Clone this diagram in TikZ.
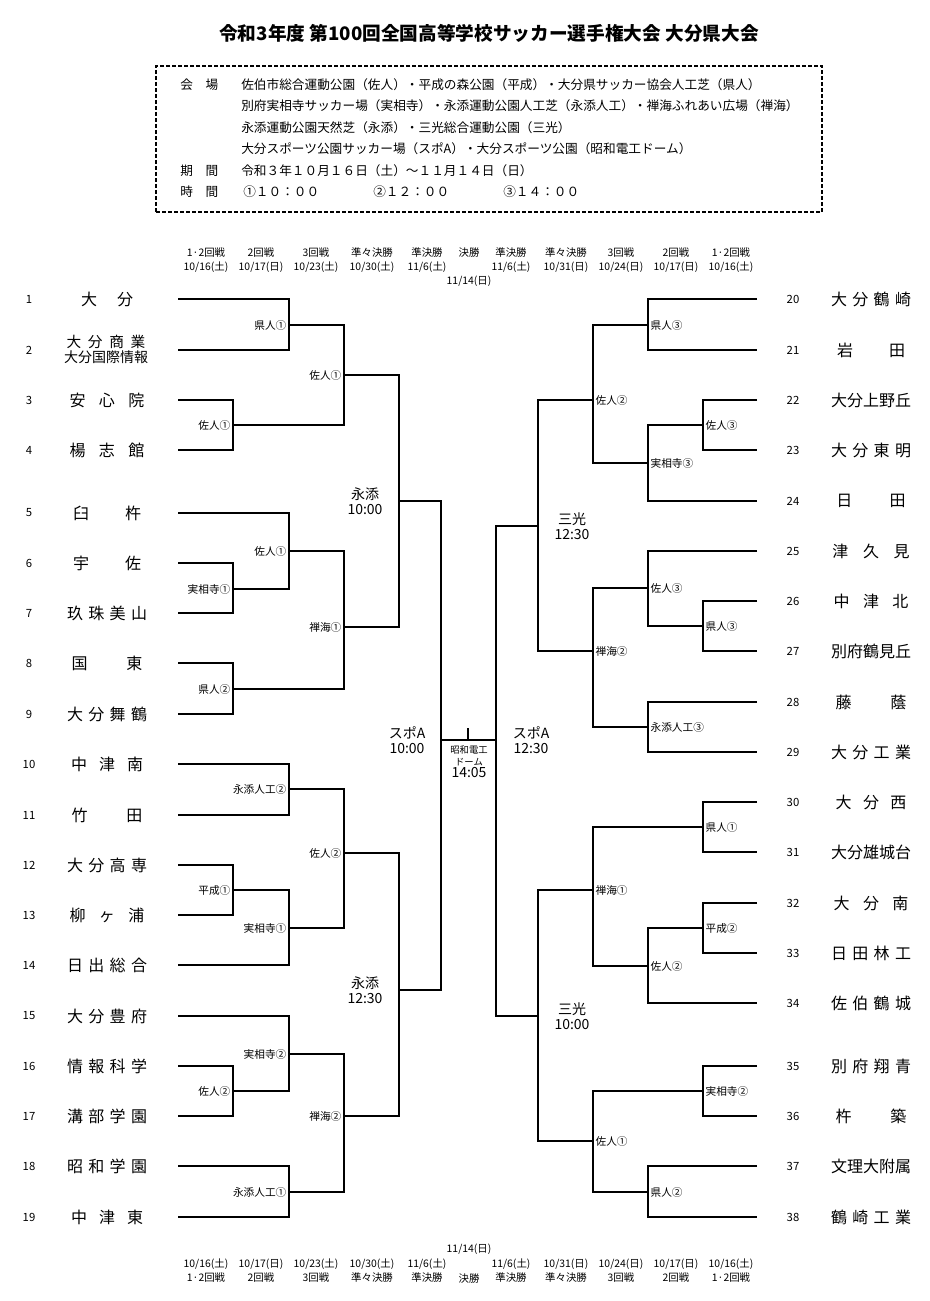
\documentclass[tikz,border=0pt]{standalone}
\usepackage{fontspec}
\setmainfont{Noto Sans CJK JP}
\usetikzlibrary{positioning, calc}
\tikzstyle{Line} = [draw, line width=1.4pt]
\tikzstyle{lmatch} = [anchor=east, inner sep=1pt, font=\fontsize{8}{9}\selectfont]
\tikzstyle{rmatch} = [anchor=west, inner sep=1pt, font=\fontsize{8}{9}\selectfont]
\tikzstyle{venue} = [align=center, inner sep=0pt, font=\fontsize{10.5}{11}\selectfont]
\tikzstyle{num} = [inner sep=0pt, font=\fontsize{8.5}{9}\selectfont]
\tikzstyle{team} = [inner sep=0pt, font=\fontsize{12}{13}\selectfont]
\tikzstyle{hdr} = [align=center, inner sep=0pt, font=\fontsize{7.8}{10.5}\selectfont]
\tikzstyle{info} = [anchor=west, inner sep=0pt, font=\fontsize{9.5}{10}\selectfont]
\newcommand{\spread}[2]{\makebox[#1pt][s]{#2}}

\begin{document}
\begin{tikzpicture}[x=0.75pt, y=-0.75pt]
     % ><>< =================== ><>< %
     \useasboundingbox (0,0) rectangle (930,1301);
     \node [font=\fontsize{14}{15}\selectfont\bfseries] (title) at (489,33)
        {令和3年度 第100回全国高等学校サッカー選手権大会 大分県大会};
     % ><><   venue box   ><>< %
     \node [draw, dash pattern=on 3pt off 1.5pt, line width=0.9pt,
        minimum width=499.5pt, minimum height=109.5pt, inner sep=0pt]
        (box) at (489,139) {};
     \node [info] (k1) at (180,85) {会　場};
     \node [info] (k2) at (180,171) {期　間};
     \node [info] (k3) at (180,192) {時　間};
     \node [info] (v1) at (241,85)
        {佐伯市総合運動公園（佐人）・平成の森公園（平成）・大分県サッカー協会人工芝（県人）};
     \node [info] (v2) at (241,106)
        {別府実相寺サッカー場（実相寺）・永添運動公園人工芝（永添人工）・禅海ふれあい広場（禅海）};
     \node [info] (v3) at (241,128) {永添運動公園天然芝（永添）・三光総合運動公園（三光）};
     \node [info] (v4) at (241,149)
        {大分スポーツ公園サッカー場（スポA）・大分スポーツ公園（昭和電工ドーム）};
     \node [info] (v5) at (241,171) {令和３年１０月１６日（土）～１１月１４日（日）};
     \node [info] (t1) at (243,192) {①１０：００};
     \node [info] (t2) at (373,192) {②１２：００};
     \node [info] (t3) at (503,192) {③１４：００};
     % ><><   round headers   ><>< %
     \foreach \x/\r/\d [count=\i] in {206/1·2回戦/{10/16(土)}, 261/2回戦/{10/17(日)},
        316/3回戦/{10/23(土)}, 372/準々決勝/{10/30(土)}, 427/準決勝/{11/6(土)},
        511/準決勝/{11/6(土)}, 566/準々決勝/{10/31(日)}, 621/3回戦/{10/24(日)},
        676/2回戦/{10/17(日)}, 731/1·2回戦/{10/16(土)}}{
        \node [hdr] (ht\i) at (\x,260) {\r\\\d};
        \node [hdr] (hb\i) at (\x,1271) {\d\\\r};
     }
     \node [hdr] (htf) at (469,253) {決勝};
     \node [hdr] (htd) at (469,281) {11/14(日)};
     \node [hdr] (hbf) at (469,1279) {決勝};
     \node [hdr] (hbd) at (469,1249) {11/14(日)};
     % ><><   teams, left   ><>< %
     \foreach \n/\y/\w/\t in {1/299/39/大 分, 3/400/56/安 心 院, 4/450/56/楊 志 館,
        5/513/51/臼 杵, 6/563/51/宇 佐, 7/613/60/玖 珠 美 山, 8/663/53/国 東,
        9/714/60/大 分 舞 鶴, 10/764/54/中 津 南, 11/815/53/竹 田,
        12/865/60/大 分 高 専, 13/915/56/柳 ヶ 浦, 14/965/60/日 出 総 合,
        15/1016/60/大 分 豊 府, 16/1066/60/情 報 科 学, 17/1116/60/溝 部 学 園,
        18/1166/60/昭 和 学 園, 19/1217/54/中 津 東}{
        \node [num] (nL\n) at (29,\y) {\n};
        \node [team] (tL\n) at (107,\y) {\spread{\w}{\t}};
     }
     \node [num] (nL2) at (29,350) {2};
     \node [team, font=\fontsize{11}{12}\selectfont] (tL2) at (106,342) {\spread{59}{大 分 商 業}};
     \node [team, font=\fontsize{10.5}{11}\selectfont] (tL2b) at (106,357) {大分国際情報};
     \foreach \n/\y in {1/299, 2/350, 3/400, 4/450, 5/513, 6/563, 7/613, 8/663,
        9/714, 10/764, 11/815, 12/865, 13/915, 14/965, 15/1016, 16/1066,
        17/1116, 18/1166, 19/1217}
        \coordinate (L\n) at (178,\y);
     % ><><   teams, right   ><>< %
     \foreach \n/\y/\w/\t in {20/299/60/大 分 鶴 崎, 21/350/51/岩 田, 22/400/0/大分上野丘,
        23/450/60/大 分 東 明, 24/501/52/日 田, 25/551/58/津 久 見, 26/601/56/中 津 北,
        27/651/0/別府鶴見丘, 28/702/53/藤 蔭, 29/752/60/大 分 工 業, 30/802/53/大 分 西,
        31/852/0/大分雄城台, 32/903/56/大 分 南, 33/953/60/日 田 林 工,
        34/1003/60/佐 伯 鶴 城, 35/1066/60/別 府 翔 青, 36/1116/53/杵 築,
        37/1166/0/文理大附属, 38/1217/60/鶴 崎 工 業}{
        \node [num] (nR\n) at (793,\y) {\n};
        \ifnum\w=0
           \node [team] (tR\n) at (871,\y) {\t};
        \else
           \node [team] (tR\n) at (871,\y) {\spread{\w}{\t}};
        \fi
        \coordinate (R\n) at (757,\y);
     }
     % ><><   match points, left   ><>< %
     \foreach \j/\x/\y in {1/289/325, 2/233/425, 3/344/375, 4/233/589, 5/289/551,
        6/233/689, 7/344/627, 8/399/501, 9/289/789, 10/233/890, 11/289/928,
        12/344/853, 13/233/1091, 14/289/1054, 15/289/1192, 16/344/1116,
        17/399/990, 18/441/740}
        \coordinate (J\j) at (\x,\y);
     % ><><   match points, right   ><>< %
     \foreach \j/\x/\y in {1/648/325, 2/703/425, 3/648/463, 4/593/400, 5/703/626,
        6/648/588, 7/648/727, 8/593/651, 9/538/526, 10/703/827, 11/703/928,
        12/648/966, 13/593/890, 14/703/1091, 15/648/1192, 16/593/1141,
        17/538/1016, 18/496/740}
        \coordinate (K\j) at (\x,\y);
     % ><>< =================== ><>< %
     % ><><     Draw lines.     ><>< %
     % ><>< =================== ><>< %
     \foreach \a/\j/\b in {L1/J1/L2, L3/J2/L4, J1/J3/J2, L6/J4/L7, L5/J5/J4,
        L8/J6/L9, J5/J7/J6, J3/J8/J7, L10/J9/L11, L12/J10/L13, J10/J11/L14,
        J9/J12/J11, L16/J13/L17, L15/J14/J13, L18/J15/L19, J14/J16/J15,
        J12/J17/J16, J8/J18/J17,
        R20/K1/R21, R22/K2/R23, K2/K3/R24, K1/K4/K3, R26/K5/R27, R25/K6/K5,
        R28/K7/R29, K6/K8/K7, K4/K9/K8, R30/K10/R31, R32/K11/R33, K11/K12/R34,
        K10/K13/K12, R35/K14/R36, R37/K15/R38, K14/K16/K15, K13/K17/K16,
        K9/K18/K17}
        \path [Line] (\a) -| (\j) |- (\b);
     \path [Line] (J18) -- (K18);
     \coordinate (top) at (468,728);
     \coordinate (mid) at (468,740);
     \path [Line] (top) -- (mid);
     % ><><   match labels   ><>< %
     \foreach \j/\t in {1/県人①, 2/佐人①, 3/佐人①, 4/実相寺①, 5/佐人①, 6/県人②,
        7/禅海①, 9/永添人工②, 10/平成①, 11/実相寺①, 12/佐人②, 13/佐人②,
        14/実相寺②, 15/永添人工①, 16/禅海②}
        \node [lmatch] (mJ\j) at ($(J\j)+(-1,0)$) {\t};
     \foreach \j/\t in {1/県人③, 2/佐人③, 3/実相寺③, 4/佐人②, 5/県人③, 6/佐人③,
        7/永添人工③, 8/禅海②, 10/県人①, 11/平成②, 12/佐人②, 13/禅海①,
        14/実相寺②, 15/県人②, 16/佐人①}
        \node [rmatch] (mK\j) at ($(K\j)+(1,0)$) {\t};
     \node [venue] (vJ8) at (365,501) {永添\\10:00};
     \node [venue] (vJ17) at (365,990) {永添\\12:30};
     \node [venue] (vJ18) at (407,740) {スポA\\10:00};
     \node [venue] (vK9) at (572,526) {三光\\12:30};
     \node [venue] (vK17) at (572,1016) {三光\\10:00};
     \node [venue] (vK18) at (531,740) {スポA\\12:30};
     \node [align=center, inner sep=0pt, font=\fontsize{7}{9}\selectfont] (fin)
        at (469,762) {昭和電工\\ドーム\\{\fontsize{10.5}{11}\selectfont 14:05}};
\end{tikzpicture}
\end{document}
